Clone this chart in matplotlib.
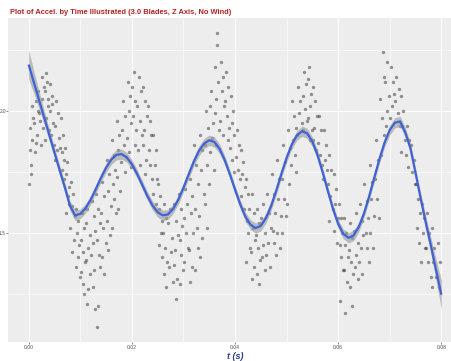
import matplotlib
matplotlib.use("Agg")
import matplotlib.pyplot as plt
import numpy as np

# ---------------- data ----------------
title = "Plot of Accel. by Time Illustrated (3.0 Blades, Z Axis, No Wind)"
x_label = "t (s)"
x_ticks = [0.00, 0.02, 0.04, 0.06, 0.08]
x_ticklabels = ["0.00", "0.02", "0.04", "0.06", "0.08"]
y_ticks = [1.5, 2.0]
y_ticklabels = ["1.5", "2.0"]

# scatter points: (t in ms, acceleration)
pts_a = [(0.1,1.70),(0.5,1.78),(0.2,1.84),(0.7,1.88),(0.3,1.93),(0.9,1.97),(0.6,2.02),(0.4,1.74),
 (1.2,1.83),(1.6,1.90),(1.1,1.95),(1.8,2.00),(1.4,2.04),(1.9,2.08),(1.5,1.87),
 (2.3,1.86),(2.7,1.93),(2.1,1.99),(2.5,2.05),(2.9,2.10),(2.6,2.14),(2.2,1.96),
 (3.3,2.156),(3.6,2.12),(3.1,2.08),(3.8,2.02),(3.4,1.97),(3.9,1.92),(3.2,1.88),(3.7,2.05),
 (4.2,2.11),(4.6,2.06),(4.1,2.00),(4.8,1.95),(4.4,1.90),(4.9,1.86),(4.5,2.03),
 (5.3,2.04),(5.7,1.99),(5.1,1.94),(5.9,1.89),(5.5,1.84),(5.2,1.80),
 (6.2,1.97),(6.6,1.90),(6.1,1.85),(6.8,1.80),(6.4,1.76),(6.9,1.72),(6.5,1.83),
 (7.1,1.85),(7.5,1.79),(7.3,1.74),(7.8,1.69),(7.6,1.65),(7.9,1.62),(7.2,1.58),
 (8.2,1.71),(8.6,1.66),(8.4,1.61),(8.9,1.57),(8.1,1.52),(8.7,1.47),(8.5,1.42)]
pts_b = [(9.1,1.60),(9.5,1.55),(9.3,1.50),(9.8,1.45),(9.6,1.40),(9.2,1.36),(9.9,1.32),
 (10.3,1.58),(10.7,1.52),(10.1,1.47),(10.5,1.42),(10.9,1.38),(10.2,1.34),(10.6,1.29),(10.8,1.25),
 (11.4,1.60),(11.1,1.54),(11.8,1.49),(11.5,1.44),(11.2,1.39),(11.9,1.33),(11.6,1.27),(11.3,1.21),
 (12.2,1.63),(12.6,1.57),(12.9,1.51),(12.4,1.46),(12.1,1.41),(12.7,1.35),(12.5,1.28),(12.8,1.19),
 (13.1,1.66),(13.5,1.60),(13.8,1.54),(13.3,1.47),(13.6,1.41),(13.9,1.36),(13.4,1.20),(13.2,1.115),
 (14.3,1.71),(14.7,1.65),(14.1,1.58),(14.5,1.52),(14.9,1.46),(14.2,1.40),(14.6,1.33),
 (15.2,1.80),(15.6,1.74),(15.4,1.67),(15.9,1.61),(15.1,1.55),(15.7,1.49),(15.3,1.43),
 (16.1,1.88),(16.5,1.82),(16.8,1.76),(16.3,1.70),(16.6,1.64),(16.9,1.58),(16.2,1.52),
 (17.2,1.96),(17.6,1.90),(17.4,1.84),(17.9,1.79),(17.1,1.73),(17.7,1.67),(17.3,1.60)]
pts_c = [(18.3,2.04),(18.7,1.98),(18.1,1.92),(18.5,1.86),(18.9,1.81),(18.6,1.75),
 (19.2,2.12),(19.6,2.06),(19.4,2.00),(19.8,1.95),(19.1,1.89),(19.5,1.83),(19.9,1.77),
 (20.4,2.16),(20.1,2.10),(20.7,2.04),(20.3,1.98),(20.9,1.92),(20.6,1.86),
 (21.3,2.14),(21.7,2.08),(21.1,2.02),(21.5,1.96),(21.9,1.90),(21.2,1.84),(21.6,1.78),
 (22.2,2.10),(22.6,2.04),(22.9,1.98),(22.4,1.92),(22.1,1.86),(22.7,1.80),(22.5,1.74),
 (23.1,2.02),(23.5,1.96),(23.8,1.90),(23.3,1.84),(23.6,1.78),(23.9,1.72),
 (24.2,1.90),(24.6,1.84),(24.4,1.78),(24.9,1.72),(24.1,1.66),(24.7,1.62),
 (25.1,1.70),(25.5,1.65),(25.3,1.60),(25.8,1.55),(25.6,1.50),(25.2,1.45),(25.9,1.40)]
pts_d = [(26.3,1.62),(26.7,1.56),(26.1,1.50),(26.5,1.44),(26.9,1.38),(26.2,1.33),(26.6,1.28),
 (27.4,1.60),(27.1,1.54),(27.8,1.48),(27.5,1.42),(27.2,1.36),(27.9,1.30),
 (28.2,1.62),(28.6,1.55),(28.9,1.49),(28.4,1.43),(28.1,1.37),(28.7,1.31),(28.5,1.23),
 (29.1,1.66),(29.5,1.60),(29.8,1.53),(29.3,1.47),(29.6,1.41),(29.9,1.35),(29.4,1.29),
 (30.3,1.68),(30.7,1.62),(30.1,1.56),(30.5,1.50),(30.9,1.44),(30.2,1.38),
 (31.2,1.72),(31.6,1.65),(31.4,1.58),(31.9,1.50),(31.1,1.43),(31.7,1.36),(31.3,1.30),
 (32.1,1.86),(32.5,1.78),(32.8,1.70),(32.3,1.60),(32.6,1.52),(32.9,1.44),(32.2,1.35),
 (33.2,1.90),(33.6,1.84),(33.4,1.76),(33.9,1.66),(33.1,1.57),(33.7,1.48),(33.3,1.40),
 (34.3,2.00),(34.7,1.93),(34.1,1.86),(34.5,1.78),(34.9,1.70),(34.2,1.62),(34.6,1.52)]
pts_e = [(35.4,2.08),(35.1,2.02),(35.8,1.95),(35.5,1.89),(35.2,1.83),(35.9,1.76),
 (36.6,2.32),(36.5,2.27),(36.2,2.18),(36.8,2.12),(36.4,2.05),(36.1,1.99),(36.9,1.92),(36.3,1.86),
 (37.2,2.20),(37.6,2.14),(37.4,2.08),(37.9,2.02),(37.1,1.96),(37.7,1.90),
 (38.3,2.16),(38.7,2.10),(38.1,2.04),(38.5,1.98),(38.9,1.93),(38.6,1.88),
 (39.2,2.06),(39.6,2.00),(39.4,1.95),(39.8,1.90),(39.1,1.85),(39.5,1.80),(39.9,1.75),
 (40.3,1.92),(40.7,1.86),(40.1,1.81),(40.5,1.76),(40.9,1.72),
 (41.2,1.84),(41.6,1.79),(41.4,1.74),(41.9,1.69),(41.1,1.65),(41.7,1.60),
 (42.1,1.72),(42.5,1.66),(42.8,1.60),(42.3,1.55),(42.6,1.50),(42.9,1.44),(42.2,1.38),
 (43.2,1.66),(43.6,1.58),(43.4,1.52),(43.9,1.47),(43.1,1.42),(43.7,1.36),(43.3,1.31)]
pts_f = [(44.3,1.60),(44.7,1.54),(44.1,1.49),(44.5,1.44),(44.9,1.39),(44.2,1.33),(44.6,1.29),
 (45.4,1.62),(45.1,1.56),(45.8,1.50),(45.5,1.45),(45.2,1.40),(45.9,1.35),
 (46.2,1.66),(46.6,1.58),(46.9,1.52),(46.4,1.46),(46.1,1.41),(46.7,1.36),
 (47.1,1.74),(47.5,1.66),(47.8,1.58),(47.3,1.51),(47.6,1.46),(47.9,1.41),
 (48.2,1.80),(48.6,1.72),(48.4,1.64),(48.9,1.57),(48.1,1.50),(48.7,1.44),
 (49.3,1.86),(49.7,1.79),(49.1,1.72),(49.5,1.64),(49.9,1.57),(49.2,1.50),
 (50.2,1.92),(50.6,1.85),(50.9,1.78),(50.4,1.70),(50.1,1.62),
 (51.1,2.04),(51.5,1.98),(51.8,1.93),(51.3,1.88),(51.6,1.82),(51.9,1.75),
 (52.2,2.10),(52.6,2.04),(52.4,1.99),(52.9,1.95),(52.1,1.90)]
pts_g = [(53.3,2.16),(53.7,2.11),(53.1,2.06),(53.5,2.01),(53.9,1.96),(53.2,1.92),
 (54.4,2.18),(54.1,2.13),(54.8,2.07),(54.5,2.02),(54.2,1.97),(54.9,1.92),(54.6,1.88),
 (55.2,2.10),(55.6,2.04),(55.9,1.98),(55.4,1.93),(55.1,1.88),(55.7,1.84),
 (56.3,1.98),(56.7,1.92),(56.1,1.87),(56.5,1.82),(56.9,1.78),
 (57.2,1.92),(57.6,1.86),(57.4,1.80),(57.9,1.76),(57.1,1.72),
 (58.3,1.82),(58.7,1.76),(58.1,1.70),(58.5,1.65),(58.9,1.60),(58.2,1.55),
 (59.2,1.74),(59.6,1.68),(59.4,1.62),(59.9,1.56),(59.1,1.51),(59.7,1.46),
 (60.1,1.62),(60.5,1.56),(60.8,1.50),(60.3,1.45),(60.6,1.40),(60.9,1.35),(60.4,1.22),
 (61.2,1.56),(61.6,1.50),(61.4,1.45),(61.9,1.40),(61.1,1.35),(61.7,1.30),(61.3,1.17),
 (62.3,1.54),(62.7,1.48),(62.1,1.43),(62.5,1.38),(62.9,1.33),(62.2,1.28),(62.6,1.20)]
pts_h = [(63.4,1.58),(63.1,1.51),(63.8,1.46),(63.5,1.41),(63.2,1.36),(63.9,1.31),
 (64.2,1.62),(64.6,1.55),(64.9,1.49),(64.4,1.44),(64.1,1.38),(64.7,1.33),
 (65.1,1.70),(65.5,1.63),(65.8,1.56),(65.3,1.50),(65.6,1.44),(65.9,1.38),
 (66.2,1.78),(66.6,1.71),(66.4,1.64),(66.9,1.57),(66.1,1.50),(66.7,1.44),
 (67.3,1.88),(67.7,1.80),(67.1,1.72),(67.5,1.64),(67.9,1.56),
 (68.6,2.24),(68.9,2.14),(68.2,2.05),(68.5,1.97),(68.8,1.90),(68.3,1.82),
 (69.4,2.20),(69.1,2.12),(69.8,2.06),(69.5,2.00),(69.2,1.94),
 (70.2,2.18),(70.6,2.12),(70.9,2.07),(70.4,2.02),(70.1,1.97),
 (71.3,2.14),(71.7,2.09),(71.1,2.04),(71.5,1.99),(71.9,1.94),
 (72.2,2.06),(72.6,2.00),(72.4,1.94),(72.9,1.88),(72.1,1.83),
 (73.3,1.94),(73.7,1.88),(73.1,1.82),(73.5,1.77),
 (74.2,1.86),(74.6,1.80),(74.4,1.75),(74.9,1.70),
 (75.1,1.70),(75.5,1.64),(75.8,1.58),(75.3,1.52),(75.6,1.46),
 (76.2,1.62),(76.6,1.56),(76.4,1.50),(76.9,1.44),(76.1,1.38),
 (77.3,1.58),(77.7,1.50),(77.1,1.44),(77.5,1.38),(77.9,1.32),
 (78.2,1.52),(78.6,1.44),(78.4,1.38),(78.9,1.32),(78.1,1.28),
 (79.3,1.46),(79.7,1.38),(79.1,1.32),(79.5,1.28)]

# smoothed fit (t in ms = 0..80) and half-width of its confidence band
smooth_t_ms = list(range(0, 81))
smooth_y = [2.190, 2.118, 2.046, 1.974, 1.902, 1.830, 1.758, 1.688, 1.612, 1.572,
            1.578, 1.600, 1.635, 1.679, 1.725, 1.767, 1.800, 1.820, 1.823, 1.810,
            1.782, 1.743, 1.698, 1.652, 1.613, 1.585, 1.572, 1.576, 1.598, 1.636,
            1.685, 1.739, 1.792, 1.836, 1.866, 1.880, 1.873, 1.845, 1.799, 1.741,
            1.678, 1.618, 1.567, 1.534, 1.520, 1.529, 1.561, 1.611, 1.674, 1.743,
            1.808, 1.862, 1.900, 1.917, 1.908, 1.874, 1.819, 1.748, 1.672, 1.598,
            1.537, 1.496, 1.480, 1.490, 1.525, 1.580, 1.650, 1.727, 1.803, 1.871,
            1.922, 1.952, 1.957, 1.912, 1.848, 1.745, 1.640, 1.540, 1.445, 1.345,
            1.247]
smooth_se = [0.060, 0.046, 0.036, 0.029, 0.025, 0.022, 0.021, 0.020, 0.020, 0.021,
             0.020, 0.019, 0.018, 0.018, 0.018, 0.019, 0.020, 0.021, 0.021, 0.020,
             0.019, 0.018, 0.018, 0.018, 0.019, 0.020, 0.021, 0.020, 0.019, 0.018,
             0.018, 0.018, 0.019, 0.020, 0.021, 0.021, 0.021, 0.020, 0.019, 0.018,
             0.018, 0.018, 0.019, 0.020, 0.021, 0.021, 0.020, 0.019, 0.018, 0.018,
             0.018, 0.019, 0.020, 0.021, 0.021, 0.020, 0.019, 0.018, 0.018, 0.018,
             0.019, 0.020, 0.021, 0.021, 0.020, 0.019, 0.018, 0.018, 0.018, 0.019,
             0.020, 0.021, 0.021, 0.021, 0.021, 0.022, 0.024, 0.028, 0.034, 0.044,
             0.060]

# ---------------- figure ----------------
W, H = 451, 361
fig = plt.figure(figsize=(W / 100, H / 100), dpi=100)
fig.patch.set_facecolor("white")

# panel spans pixels x 8..462 (cropped at 451), y 18..342
ax = fig.add_axes([8 / W, (H - 342) / H, (462 - 8) / W, (342 - 18) / H])
ax.set_facecolor("#EDEDED")
for s in ax.spines.values():
    s.set_visible(False)

all_pts = pts_a + pts_b + pts_c + pts_d + pts_e + pts_f + pts_g + pts_h
pt_t = np.array([p[0] for p in all_pts]) / 1000.0
pt_y = np.array([p[1] for p in all_pts])
ax.scatter(pt_t, pt_y, s=6, color="#333333", alpha=0.5, linewidths=0, zorder=3)

st = np.array(smooth_t_ms) / 1000.0
sy = np.array(smooth_y)
se = np.array(smooth_se)
ax.fill_between(st, sy - se, sy + se, color="#999999", alpha=0.6, linewidth=0, zorder=4)
ax.plot(st, sy, color="#3F63D6", linewidth=1.6, zorder=5, solid_capstyle="butt")

ax.set_xlim(-0.004, 0.084)
ax.set_ylim(1.053, 2.381)

ax.set_xticks(x_ticks)
ax.set_xticklabels(x_ticklabels)
ax.set_yticks(y_ticks)
ax.set_yticklabels(y_ticklabels)
ax.set_xticks([0.01, 0.03, 0.05, 0.07], minor=True)
ax.set_yticks([1.25, 1.75, 2.25], minor=True)
ax.grid(True, which="major", color="white", linewidth=0.8, zorder=0)
ax.grid(True, which="minor", color="white", linewidth=0.4, zorder=0)
ax.set_axisbelow(True)
ax.tick_params(axis="x", which="major", length=1.5, width=0.4, color="#333333",
               labelsize=3.6, labelcolor="#4D4D4D", pad=1)
ax.tick_params(axis="y", which="major", length=1.2, width=0.4, color="#333333",
               labelsize=3.4, labelcolor="#4D4D4D", pad=0.4)
ax.tick_params(which="minor", length=0)
for lab in ax.get_xticklabels() + ax.get_yticklabels():
    lab.set_family("Liberation Sans")

ax.set_xlabel(x_label, family="Liberation Sans", fontsize=6.5, fontweight="bold",
              fontstyle="italic", color="#2E3A8C", labelpad=1)

fig.text(10 / W, 1 - 12 / H, title, family="Liberation Sans", fontsize=5.4,
         fontweight="bold", color="#B22222", ha="left", va="center")

fig.savefig("out.png", dpi=100)
